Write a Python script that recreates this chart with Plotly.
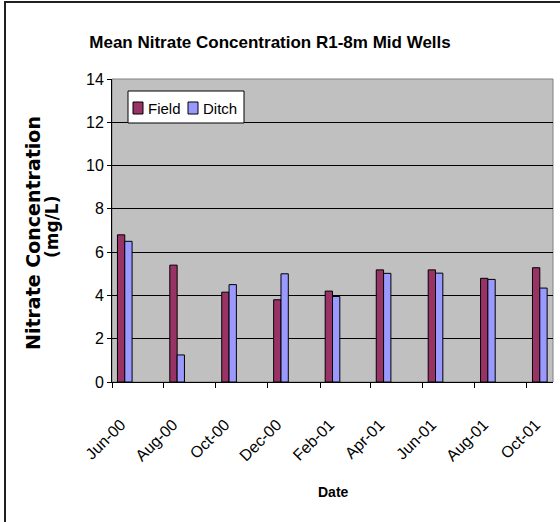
import plotly.graph_objects as go

# ---- data ----
months = ["2000-06-01", "2000-08-01", "2000-10-01", "2000-12-01", "2001-02-01",
          "2001-04-01", "2001-06-01", "2001-08-01", "2001-10-01"]
field = [6.8, 5.4, 4.15, 3.8, 4.2, 5.18, 5.18, 4.79, 5.28]
ditch = [6.5, 1.25, 4.5, 5.0, 3.95, 5.02, 5.03, 4.74, 4.34]
series_names = ["Field", "Ditch"]
series_colors = ["#993366", "#9999FF"]
y_ticks = [0, 2, 4, 6, 8, 10, 12, 14]

# ---- style ----
DAY = 86400000
BAR_W = 8.6 * DAY
FONT = "Liberation Sans, Arial, sans-serif"
WIDE_FONT = "DejaVu Sans, Liberation Sans, sans-serif"

L, R, T, B = 112, 7, 79, 140
W, H = 560, 522
pw, ph = W - L - R, H - T - B


def px_x(p):
    return (p - L) / pw


def px_y(p):
    return (H - B - p) / ph


fig = go.Figure()
for name, vals, color, off in [(series_names[0], field, series_colors[0], -BAR_W),
                               (series_names[1], ditch, series_colors[1], 0)]:
    fig.add_trace(go.Bar(
        name=name, x=months, y=vals,
        xperiod="M1", xperiodalignment="middle",
        width=BAR_W, offset=off,
        marker=dict(color=color, line=dict(color="black", width=1)),
        showlegend=False,
    ))

shapes = [
    # plot area border
    dict(type="rect", xref="paper", yref="paper", x0=0, x1=1, y0=0, y1=1,
         line=dict(color="#808080", width=1), layer="below"),
    # outer chart border
    dict(type="rect", xref="paper", yref="paper",
         x0=px_x(5), x1=px_x(565), y0=px_y(530), y1=px_y(2),
         line=dict(color="#202020", width=2)),
    # legend box
    dict(type="rect", xref="paper", yref="paper",
         x0=px_x(128), x1=px_x(244), y0=px_y(123), y1=px_y(91),
         fillcolor="white", line=dict(color="black", width=1)),
]
annotations = []
legend_items = [(133, 148), (188, 203)]
for (sx, tx), name, color in zip(legend_items, series_names, series_colors):
    shapes.append(dict(type="rect", xref="paper", yref="paper",
                       x0=px_x(sx), x1=px_x(sx + 10), y0=px_y(114), y1=px_y(102),
                       fillcolor=color, line=dict(color="black", width=1)))
    annotations.append(dict(text=name, xref="paper", yref="paper",
                            x=px_x(tx - 2), y=px_y(108), xanchor="left", yanchor="middle",
                            showarrow=False, font=dict(size=15, family=FONT)))

# axis titles
annotations.append(dict(text="<b>Date</b>", xref="paper", yref="paper",
                        x=px_x(333), y=px_y(492), xanchor="center", yanchor="middle",
                        showarrow=False, font=dict(size=14, family=FONT)))
annotations.append(dict(text="<b>Nitrate Concentration</b>", xref="paper", yref="paper",
                        x=px_x(33), y=px_y(233), xanchor="center", yanchor="middle",
                        textangle=-90, showarrow=False, font=dict(size=19, family=WIDE_FONT)))
annotations.append(dict(text="<b>(mg/L)</b>", xref="paper", yref="paper",
                        x=px_x(52), y=px_y(227), xanchor="center", yanchor="middle",
                        textangle=-90, showarrow=False, font=dict(size=17, family=WIDE_FONT)))

fig.update_layout(
    width=W, height=H,
    margin=dict(l=L, r=R, t=T, b=B, pad=0),
    barmode="overlay",
    paper_bgcolor="white",
    plot_bgcolor="#C0C0C0",
    font=dict(family=FONT, color="black", size=15),
    title=dict(
        text="<b>Mean Nitrate Concentration R1-8m Mid Wells</b>",
        x=270 / W, xanchor="center", xref="container",
        y=1 - 42 / H, yanchor="middle", yref="container",
        font=dict(size=17, family=FONT, color="black"),
    ),
    showlegend=False,
    xaxis=dict(
        type="date",
        range=["2000-06-01", "2001-11-01"],
        tick0="2000-06-01", dtick="M2",
        tickformat="%b-%y",
        tickangle=-45,
        ticks="outside", ticklen=5, tickcolor="black",
        ticklabelstandoff=21, ticklabelshift=9,
        showline=True, linecolor="black", linewidth=1,
        showgrid=False, zeroline=False,
        tickfont=dict(size=16, family=FONT),
    ),
    yaxis=dict(
        range=[0, 14],
        tickvals=y_ticks,
        ticks="outside", ticklen=4, tickcolor="black",
        showline=True, linecolor="black", linewidth=1,
        showgrid=True, gridcolor="black", gridwidth=1,
        zeroline=False,
        tickfont=dict(size=16, family=FONT),
    ),
    shapes=shapes,
    annotations=annotations,
)

fig.write_html("out.html", config={"displayModeBar": False},
               post_script="document.body.style.margin='0';")
